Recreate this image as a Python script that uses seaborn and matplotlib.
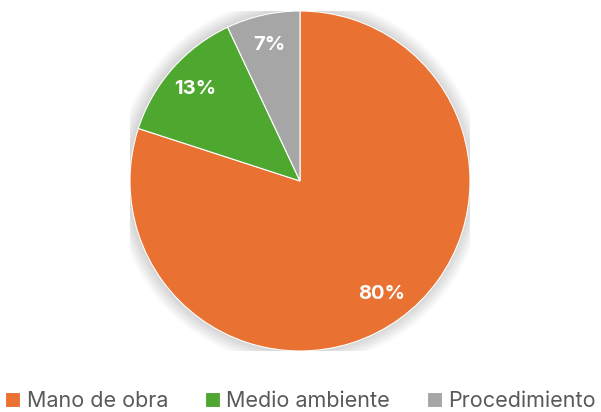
import matplotlib
matplotlib.use("Agg")
import matplotlib.pyplot as plt
import seaborn as sns
from matplotlib.patches import Circle

categories = ["Mano de obra", "Medio ambiente", "Procedimiento"]
shares = [80, 13, 7]
colors = ["#E97132", "#4EA72E", "#A6A6A6"]

sns.set_theme(style="white")
plt.rcParams["font.family"] = ["Inter", "DejaVu Sans"]
palette = sns.color_palette(colors)

fig = plt.figure(figsize=(6.01, 4.12), dpi=100)
fig.patch.set_facecolor("white")
W, H = 601, 412
ax = fig.add_axes([130 / W, 61 / H, 340 / W, 340 / H])

# soft shadow behind the pie
for i in range(14):
    r = 1.0 + 0.006 * (i + 1)
    ax.add_patch(Circle((-0.005, 0.0), r, color="black", alpha=0.013, lw=0, zorder=0))

wedges, texts, autotexts = ax.pie(
    shares,
    colors=palette,
    startangle=90,
    counterclock=False,
    autopct=lambda p: f"{p:.0f}%",
    pctdistance=0.82,
    wedgeprops=dict(linewidth=0.8, edgecolor="white"),
    textprops=dict(color="white", fontsize=14.5, fontweight="bold"),
)
for w in wedges:
    w.set_zorder(2)
for t in autotexts:
    t.set_zorder(3)

ax.set_xlim(-1, 1)
ax.set_ylim(-1, 1)
ax.set_aspect("equal")
ax.axis("off")

fig.legend(
    wedges,
    categories,
    loc="center",
    bbox_to_anchor=(0.5, 1 - 401 / H),
    ncol=3,
    frameon=False,
    fontsize=15.5,
    labelcolor="#595959",
    handlelength=0.7,
    handleheight=0.7,
    handletextpad=0.3,
    columnspacing=1.7,
)

fig.savefig("out.png", dpi=100, facecolor="white")
